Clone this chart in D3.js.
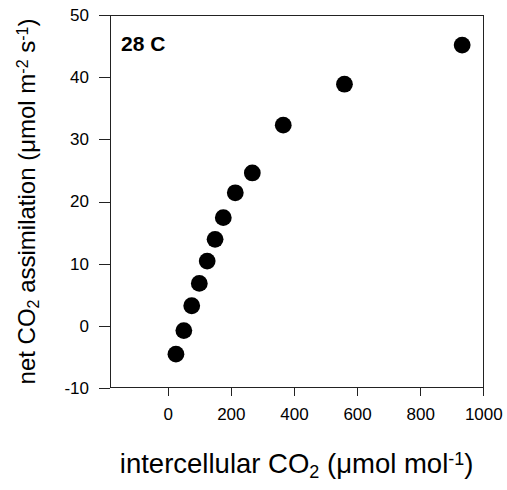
<!DOCTYPE html>
<html>
<head>
<meta charset="utf-8">
<script src="https://cdn.jsdelivr.net/npm/d3@7"></script>
<style>
  body { margin: 0; background: #fff; }
  svg text { font-family: "Liberation Sans", Arial, sans-serif; fill: #000; }
  .axis path, .axis line { stroke: #222; stroke-width: 1; shape-rendering: crispEdges; }
</style>
</head>
<body>
<svg id="chart" width="507" height="490"></svg>
<script>
// intercellular CO2 (x) vs net CO2 assimilation (y)
var ci = [26, 51, 76, 100, 125, 150, 176, 214, 268, 366, 560, 933]
var anet = [-4.6, -0.8, 3.2, 6.8, 10.4, 13.9, 17.4, 21.4, 24.6, 32.3, 38.9, 45.2]
var xTicks = [0, 200, 400, 600, 800, 1000]
var yTicks = [-10, 0, 10, 20, 30, 40, 50]
var panelLabel = '28 C'

var svg = d3.select('#chart')
var pl = 110, pr = 483.3, pt = 15.3, pb = 387.7
var plain = function(d) { return String(d) } // hyphen minus, no thousands comma

var x = d3.scaleLinear().domain([-183, 1000]).range([pl, pr])
var y = d3.scaleLinear().domain([-10, 50]).range([pb, pt])

// frame top + right (left/bottom come from axes)
svg.append('line').attr('x1', pl).attr('x2', pr).attr('y1', pt).attr('y2', pt)
  .attr('stroke', '#222').attr('shape-rendering', 'crispEdges')
svg.append('line').attr('x1', pr).attr('x2', pr).attr('y1', pt).attr('y2', pb)
  .attr('stroke', '#222').attr('shape-rendering', 'crispEdges')

var gx = svg.append('g').attr('class', 'axis')
  .attr('transform', 'translate(0,' + pb + ')')
  .call(d3.axisBottom(x).tickValues(xTicks).tickFormat(plain)
    .tickSize(8).tickPadding(12).tickSizeOuter(0))
gx.select('.domain').attr('d', 'M' + pl + ',0H' + pr)

var gy = svg.append('g').attr('class', 'axis')
  .attr('transform', 'translate(' + pl + ',0)')
  .call(d3.axisLeft(y).tickValues(yTicks).tickFormat(plain)
    .tickSize(11).tickPadding(10).tickSizeOuter(0))

svg.selectAll('.axis text').style('font-size', '17px').attr('font-family', null)

// points
svg.append('g').selectAll('circle')
  .data(ci.map(function(d, i) { return [d, anet[i]] }))
  .join('circle')
  .attr('cx', function(d) { return x(d[0]) })
  .attr('cy', function(d) { return y(d[1]) })
  .attr('r', 8.4)
  .attr('fill', '#000')

svg.append('text').attr('x', 121).attr('y', 51)
  .style('font-size', '21px').style('font-weight', 'bold')
  .text(panelLabel)

// x title
var xt = svg.append('text')
  .attr('x', (pl + pr) / 2).attr('y', 473)
  .attr('text-anchor', 'middle')
  .style('font-size', '27.5px')
xt.append('tspan').text('intercellular CO')
xt.append('tspan').attr('baseline-shift', '-28%').style('font-size', '18px').text('2')
xt.append('tspan').text(' (\u03bcmol mol')
xt.append('tspan').attr('baseline-shift', '45%').style('font-size', '18px').text('-1')
xt.append('tspan').text(')')

// y title
var yt = svg.append('text')
  .attr('transform', 'translate(35,' + (pt + pb) / 2 + ') rotate(-90)')
  .attr('text-anchor', 'middle')
  .style('font-size', '24px')
yt.append('tspan').text('net CO')
yt.append('tspan').attr('baseline-shift', '-28%').style('font-size', '16px').text('2')
yt.append('tspan').text(' assimilation (\u03bcmol m')
yt.append('tspan').attr('baseline-shift', '45%').style('font-size', '16px').text('-2')
yt.append('tspan').text(' s')
yt.append('tspan').attr('baseline-shift', '45%').style('font-size', '16px').text('-1')
yt.append('tspan').text(')')
</script>
</body>
</html>
